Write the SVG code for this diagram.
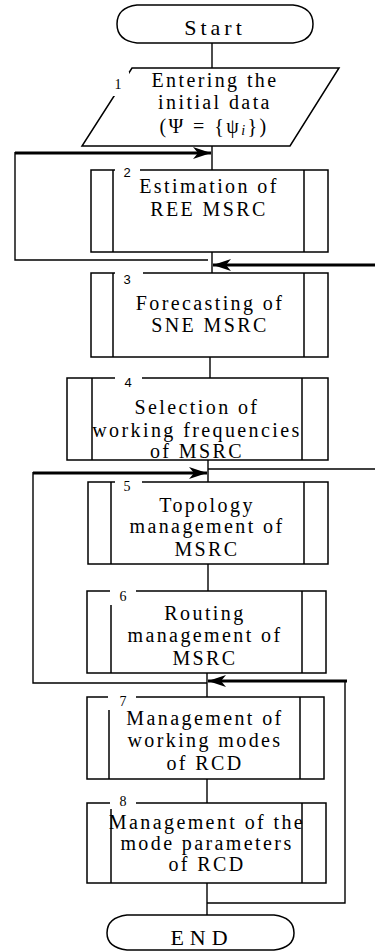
<svg xmlns="http://www.w3.org/2000/svg" width="375" height="951" viewBox="0 0 375 951">
<defs>
<style>
.shape{fill:none;stroke:#000;stroke-width:1.5}
.thin{fill:none;stroke:#000;stroke-width:1.4}
.thick{fill:none;stroke:#000;stroke-width:3}
.t{font-family:"Liberation Serif","Times New Roman",serif;font-size:20px;letter-spacing:2.4px;text-anchor:middle;fill:#000}
.big{font-family:"Liberation Serif","Times New Roman",serif;font-size:22px;text-anchor:middle;fill:#000}
.ns{font-family:"Liberation Sans",Arial,sans-serif;font-size:13px;text-anchor:middle;fill:#000}
.nr{font-family:"Liberation Serif","Times New Roman",serif;font-size:14px;text-anchor:middle;fill:#000}
.bg{fill:#fff;stroke:none}
</style>
<marker id="ah" markerUnits="userSpaceOnUse" markerWidth="19" markerHeight="12" refX="18" refY="6" orient="auto">
<path d="M0,0 L18,6 L0,12 L5,6 Z" fill="#000"/>
</marker>
</defs>
<rect width="375" height="951" fill="#fff"/>

<g id="connectors">
<line class="thin" x1="212" y1="43" x2="212" y2="68"/>
<line class="thin" x1="212" y1="146" x2="212" y2="170"/>
<line class="thick" x1="15" y1="153" x2="211" y2="153" marker-end="url(#ah)"/>
<polyline class="thin" points="15,152 15,260 208,260"/>
<line class="thin" x1="212" y1="252" x2="212" y2="273"/>
<line class="thick" x1="375" y1="265" x2="213" y2="265" marker-end="url(#ah)"/>
<line class="thin" x1="210" y1="357" x2="210" y2="378"/>
<line class="thin" x1="208" y1="460" x2="208" y2="482"/>
<line class="thin" x1="208" y1="469" x2="375" y2="469"/>
<line class="thick" x1="33" y1="473" x2="207" y2="473" marker-end="url(#ah)"/>
<polyline class="thin" points="33,472 33,683 207,683"/>
<line class="thin" x1="208" y1="564" x2="208" y2="591"/>
<line class="thin" x1="207" y1="673" x2="207" y2="697"/>
<line class="thick" x1="347" y1="681" x2="208" y2="681" marker-end="url(#ah)"/>
<polyline class="thin" points="345,681 345,903 207,903"/>
<line class="thin" x1="207" y1="779" x2="207" y2="803"/>
<line class="thin" x1="207" y1="883" x2="207" y2="915"/>
</g>

<g id="start">
<path class="shape" d="M137,5 H293 C309,7 313,16 313,24 C313,32 309,41 293,43 H137 C121,41 117,32 117,24 C117,16 121,7 137,5 Z"/>
<text class="big" x="215" y="35" letter-spacing="4">Start</text>
</g>

<g id="n1">
<polygon class="shape" points="132,68 339,68 290,146 82,146"/>
<rect class="bg" x="110" y="72" width="19" height="24"/>
<text class="nr" x="118" y="89">1</text>
<text class="t" x="215" y="87">Entering the</text>
<text class="t" x="215" y="109">initial data</text>
<text class="t" x="214" y="133">(Ψ  =  {ψ<tspan font-style="italic" font-size="14px" dy="2">i</tspan><tspan dy="-2">})</tspan></text>
</g>

<g id="n2">
<rect class="shape" x="91" y="170" width="237" height="82"/>
<line class="shape" x1="113" y1="170" x2="113" y2="252"/>
<line class="shape" x1="304" y1="170" x2="304" y2="252"/>
<rect class="bg" x="115" y="166" width="25" height="8"/>
<text class="ns" x="127" y="177">2</text>
<text class="t" x="209" y="193">Estimation of</text>
<text class="t" x="209" y="216">REE MSRC</text>
</g>

<g id="n3">
<rect class="shape" x="91" y="273" width="237" height="84"/>
<line class="shape" x1="113" y1="273" x2="113" y2="357"/>
<line class="shape" x1="304" y1="273" x2="304" y2="357"/>
<rect class="bg" x="115" y="269" width="28" height="8"/>
<text class="ns" x="127" y="284">3</text>
<text class="t" x="210" y="310">Forecasting of</text>
<text class="t" x="210" y="332">SNE MSRC</text>
</g>

<g id="n4">
<rect class="shape" x="67" y="378" width="261" height="82"/>
<line class="shape" x1="92" y1="378" x2="92" y2="460"/>
<line class="shape" x1="302" y1="378" x2="302" y2="460"/>
<rect class="bg" x="115" y="374" width="27" height="8"/>
<text class="ns" x="128" y="387">4</text>
<text class="t" x="197" y="414">Selection of</text>
<text class="t" x="197" y="437">working frequencies</text>
<text class="t" x="197" y="458">of MSRC</text>
</g>

<g id="n5">
<rect class="shape" x="88" y="482" width="240" height="82"/>
<line class="shape" x1="111" y1="482" x2="111" y2="564"/>
<line class="shape" x1="304" y1="482" x2="304" y2="564"/>
<rect class="bg" x="115" y="478" width="27" height="8"/>
<text class="nr" x="127" y="491">5</text>
<text class="t" x="207" y="512">Topology</text>
<text class="t" x="207" y="533">management of</text>
<text class="t" x="207" y="556">MSRC</text>
</g>

<g id="n6">
<rect class="shape" x="87" y="591" width="239" height="82"/>
<line class="shape" x1="111" y1="591" x2="111" y2="673"/>
<line class="shape" x1="302" y1="591" x2="302" y2="673"/>
<rect class="bg" x="110" y="587" width="26" height="18"/>
<text class="nr" x="123" y="601">6</text>
<text class="t" x="205" y="620">Routing</text>
<text class="t" x="205" y="642">management of</text>
<text class="t" x="205" y="665">MSRC</text>
</g>

<g id="n7">
<rect class="shape" x="87" y="697" width="237" height="82"/>
<line class="shape" x1="109" y1="697" x2="109" y2="779"/>
<line class="shape" x1="300" y1="697" x2="300" y2="779"/>
<rect class="bg" x="108" y="693" width="28" height="17"/>
<text class="nr" x="123" y="706">7</text>
<text class="t" x="205" y="725">Management of</text>
<text class="t" x="205" y="747">working modes</text>
<text class="t" x="205" y="770">of RCD</text>
</g>

<g id="n8">
<rect class="shape" x="87" y="803" width="239" height="80"/>
<line class="shape" x1="111" y1="803" x2="111" y2="883"/>
<line class="shape" x1="302" y1="803" x2="302" y2="883"/>
<rect class="bg" x="110" y="798" width="26" height="11"/>
<text class="nr" x="123" y="806" font-size="12px">8</text>
<text class="t" x="207" y="829">Management of the</text>
<text class="t" x="207" y="850">mode parameters</text>
<text class="t" x="207" y="871">of RCD</text>
</g>

<g id="end">
<path class="shape" d="M127,915 H274 C290,917 294,925 294,933 C294,941 290,948 274,950 H127 C111,948 107,941 107,933 C107,925 111,917 127,915 Z"/>
<text class="big" x="202" y="945" letter-spacing="6">END</text>
</g>
</svg>
